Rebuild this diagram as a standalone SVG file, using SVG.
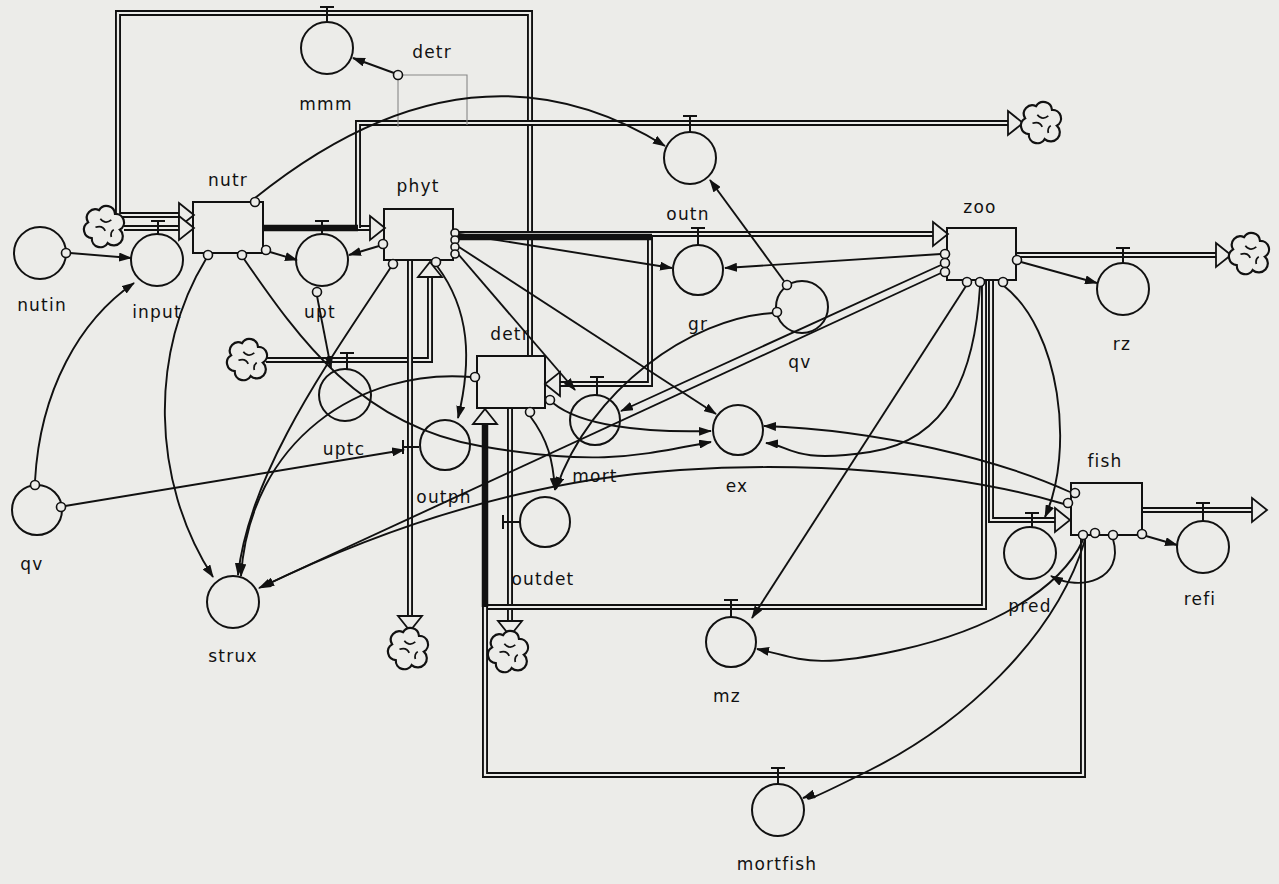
<svg xmlns="http://www.w3.org/2000/svg" xmlns:xlink="http://www.w3.org/1999/xlink" width="1279" height="884" viewBox="0 0 1279 884">
<style>
.bg{fill:#ecece9}
.pipe{fill:none;stroke:#111;stroke-width:6;stroke-linejoin:miter}
.pipein{fill:none;stroke:#ecece9;stroke-width:2.2;stroke-linejoin:miter}
.heavy{fill:none;stroke:#111;stroke-width:6.5}
.box{fill:none;stroke:#111;stroke-width:2}
.conv{fill:none;stroke:#111;stroke-width:2}
.dot{fill:#ecece9;stroke:#111;stroke-width:1.6}
.con{fill:none;stroke:#111;stroke-width:1.9;marker-end:url(#ah)}
.thin{fill:none;stroke:#888;stroke-width:1.1}
.valve{fill:none;stroke:#111;stroke-width:2}
.farrow{fill:#ecece9;stroke:#111;stroke-width:1.8;stroke-linejoin:miter}
.cloud{fill:#ecece9;stroke:#111;stroke-width:1.8}
text{font-family:"DejaVu Sans","Liberation Sans",sans-serif;font-size:17px;letter-spacing:1.2px;fill:#111;text-anchor:middle}
</style>
<defs>
<marker id="ah" viewBox="0 0 13 9" refX="12" refY="4.5" markerWidth="13" markerHeight="9" markerUnits="userSpaceOnUse" orient="auto"><path d="M0,0 L13,4.5 L0,9 z" fill="#111"/></marker>
<path id="fa" class="farrow" d="M0,-12 L15,0 L0,12 Z"/>
<g id="cl">
<g transform="scale(1.22)">
<path class="cloud" d="M-4,-13 A7,7 0 0 1 9,-10 A7,7 0 0 1 13,3 A7,7 0 0 1 3,14 A7,7 0 0 1 -10,10 A7,7 0 0 1 -13,-3 A7,7 0 0 1 -4,-13 Z"/>
<path fill="none" stroke="#111" stroke-width="1.4" d="M-3,-6 q4,5 9,1 M1,4 q-2,-5 -8,-3 M6,9 q-1,-4 2,-6"/>
</g>
</g>
</defs>
<rect class="bg" x="0" y="0" width="1279" height="884"/>

<g id="flows">
<path class="pipe" d="M530,356 V13 H118 V215 H181"/><path class="pipein" d="M530,356 V13 H118 V215 H181"/>
<path class="pipe" d="M124,228 H181"/><path class="pipein" d="M124,228 H181"/>
<path class="pipe" d="M263,228 H371"/><path class="pipein" d="M263,228 H371"/>
<path class="pipe" d="M358,228 V123 H1009"/><path class="pipein" d="M358,228 V123 H1009"/>
<path class="pipe" d="M453,234 H934"/><path class="pipein" d="M453,234 H934"/>
<path class="pipe" d="M650,237 V384 H559"/><path class="pipein" d="M650,237 V384 H559"/>
<path class="pipe" d="M266,360 H430 V277"/><path class="pipein" d="M266,360 H430 V277"/>
<path class="pipe" d="M410,260 V617"/><path class="pipein" d="M410,260 V617"/>
<path class="pipe" d="M510,408 V622"/><path class="pipein" d="M510,408 V622"/>
<path class="pipe" d="M984,280 V607 H485 V423"/><path class="pipein" d="M984,280 V607 H485 V423"/>
<path class="pipe" d="M991,280 V520 H1056"/><path class="pipein" d="M991,280 V520 H1056"/>
<path class="pipe" d="M1083,535 V775 H485 V607"/><path class="pipein" d="M1083,535 V775 H485 V607"/>
<path class="pipe" d="M1016,255 H1217"/><path class="pipein" d="M1016,255 H1217"/>
<path class="pipe" d="M1142,510 H1253"/><path class="pipein" d="M1142,510 H1253"/>
<path class="heavy" d="M263,228 H358"/>
<path class="heavy" d="M453,237 H652"/>
<path class="heavy" stroke-width="7" d="M485,423 V607"/>
<use href="#fa" transform="translate(179,215)"/>
<use href="#fa" transform="translate(179,228)"/>
<use href="#fa" transform="translate(370,228)"/>
<use href="#fa" transform="translate(1008,123)"/>
<use href="#fa" transform="translate(933,234)"/>
<use href="#fa" transform="translate(560,384) rotate(180)"/>
<use href="#fa" transform="translate(430,277) rotate(-90)"/>
<use href="#fa" transform="translate(410,616) rotate(90)"/>
<use href="#fa" transform="translate(510,621) rotate(90)"/>
<use href="#fa" transform="translate(485,424) rotate(-90)"/>
<use href="#fa" transform="translate(1055,520)"/>
<use href="#fa" transform="translate(1216,255)"/>
<use href="#fa" transform="translate(1252,510)"/>
<use href="#cl" x="104" y="226"/>
<use href="#cl" x="1041" y="122"/>
<use href="#cl" x="1249" y="253"/>
<use href="#cl" x="247" y="359"/>
<use href="#cl" x="408" y="648"/>
<use href="#cl" x="508" y="651"/>
<path class="valve" d="M151,221 H165 M158,221 V234 M315,221 H329 M322,221 V234 M683,116 H697 M690,116 V132 M320,7 H334 M327,7 V22 M691,228 H705 M698,228 V245 M590,377 H604 M597,377 V395 M340,353 H354 M347,353 V369 M403,440 V454 M403,447 H419 M503,515 V529 M503,522 H520 M724,600 H738 M731,600 V617 M771,768 H785 M778,768 V784 M1025,513 H1039 M1032,513 V527 M1116,248 H1130 M1123,248 V263 M1196,503 H1210 M1203,503 V521"/>
</g>

<g id="connectors">
<path class="thin" d="M398,79 V127 M402,75 H467 V125"/>
<path class="con" d="M70,253 L131,258"/>
<path class="con" d="M35,481 C40,390 80,320 134,283"/>
<path class="con" d="M65,506 L404,450"/>
<path class="con" d="M255,198 Q470,25 665,146"/>
<path class="con" d="M784,281 L710,180"/>
<path class="con" d="M270,252 L297,260"/>
<path class="con" d="M379,246 L349,255"/>
<path class="con" d="M206,259 C150,350 150,480 213,577"/>
<path class="con" d="M244,259 C300,340 360,425 480,446 S640,455 711,442"/>
<path class="con" d="M553,403 C580,425 640,433 711,431"/>
<path class="con" d="M317,296 L331,368"/>
<path class="con" d="M391,267 C330,360 250,470 238,575"/>
<path class="con" d="M471,377 C360,368 250,440 241,576"/>
<path class="con" d="M437,266 C470,310 472,360 458,418"/>
<path class="con" d="M459,234 L672,268"/>
<path class="con" d="M459,247 L716,414"/>
<path class="con" d="M458,254 L575,390"/>
<path class="con" d="M941,254 L725,268"/>
<path class="con" d="M941,265 L621,411"/>
<path class="con" d="M941,273 L259,588"/>
<path class="con" d="M966,286 L752,618"/>
<path class="con" d="M980,286 C975,370 950,440 870,452 S790,445 766,443"/>
<path class="con" d="M1004,286 C1060,330 1075,450 1045,517"/>
<path class="con" d="M1021,262 L1097,283"/>
<path class="con" d="M1146,536 L1177,545"/>
<path class="con" d="M1113,539 C1125,580 1080,592 1051,576"/>
<path class="con" d="M1083,540 C1060,590 990,630 900,650 S800,658 757,649"/>
<path class="con" d="M1085,540 C1055,640 960,725 870,770 S820,792 803,798"/>
<path class="con" d="M1070,492 C1000,460 880,430 764,426"/>
<path class="con" d="M1064,504 C950,470 800,462 680,470 S420,510 262,587"/>
<path class="con" d="M773,313 C690,318 590,390 556,489"/>
<path class="con" d="M530,416 C548,440 553,460 555,490"/>
<path class="con" d="M394,73 L353,58"/>
</g>

<g id="nutr"><rect class="box" x="193" y="202" width="70" height="51"/><text x="228" y="186">nutr</text></g>
<g id="phyt"><rect class="box" x="384" y="209" width="69" height="51"/><text x="418" y="192">phyt</text></g>
<g id="detr"><rect class="box" x="477" y="356" width="68" height="52"/><text x="510" y="340">detr</text></g>
<g id="zoo"><rect class="box" x="947" y="228" width="69" height="52"/><text x="980" y="213">zoo</text></g>
<g id="fish"><rect class="box" x="1071" y="483" width="71" height="52"/><text x="1105" y="467">fish</text></g>

<g id="nutin"><circle class="conv" cx="40" cy="253" r="26"/><text x="42" y="311">nutin</text></g>
<g id="input"><circle class="conv" cx="157" cy="260" r="26"/><text x="157" y="318">input</text></g>
<g id="upt"><circle class="conv" cx="322" cy="260" r="26"/><text x="320" y="318">upt</text></g>
<g id="mmm"><circle class="conv" cx="327" cy="48" r="26"/><text x="326" y="110">mmm</text></g>
<g id="detr-alias"><text x="432" y="58">detr</text></g>
<g id="outn"><circle class="conv" cx="690" cy="158" r="26"/><text x="688" y="220">outn</text></g>
<g id="gr"><circle class="conv" cx="698" cy="270" r="25"/><text x="698" y="330">gr</text></g>
<g id="qv2"><circle class="conv" cx="802" cy="307" r="26"/><text x="800" y="368">qv</text></g>
<g id="ex"><circle class="conv" cx="738" cy="430" r="25"/><text x="737" y="492">ex</text></g>
<g id="mort"><circle class="conv" cx="595" cy="420" r="25"/><text x="595" y="482">mort</text></g>
<g id="uptc"><circle class="conv" cx="345" cy="395" r="26"/><text x="344" y="455">uptc</text></g>
<g id="outph"><circle class="conv" cx="445" cy="445" r="25"/><text x="444" y="503">outph</text></g>
<g id="qv1"><circle class="conv" cx="37" cy="510" r="25"/><text x="32" y="570">qv</text></g>
<g id="strux"><circle class="conv" cx="233" cy="602" r="26"/><text x="233" y="662">strux</text></g>
<g id="outdet"><circle class="conv" cx="545" cy="522" r="25"/><text x="543" y="585">outdet</text></g>
<g id="mz"><circle class="conv" cx="731" cy="642" r="25"/><text x="727" y="702">mz</text></g>
<g id="mortfish"><circle class="conv" cx="778" cy="810" r="26"/><text x="777" y="870">mortfish</text></g>
<g id="pred"><circle class="conv" cx="1030" cy="553" r="26"/><text x="1030" y="612">pred</text></g>
<g id="rz"><circle class="conv" cx="1123" cy="289" r="26"/><text x="1122" y="350">rz</text></g>
<g id="refi"><circle class="conv" cx="1203" cy="547" r="26"/><text x="1200" y="605">refi</text></g>

<g id="ports">
<circle class="dot" cx="66" cy="253" r="4.5"/>
<circle class="dot" cx="35" cy="485" r="4.5"/>
<circle class="dot" cx="61" cy="507" r="4.5"/>
<circle class="dot" cx="255" cy="202" r="4.5"/>
<circle class="dot" cx="208" cy="255" r="4.5"/>
<circle class="dot" cx="242" cy="255" r="4.5"/>
<circle class="dot" cx="266" cy="250" r="4.5"/>
<circle class="dot" cx="383" cy="244" r="4.5"/>
<circle class="dot" cx="393" cy="264" r="4.5"/>
<circle class="dot" cx="436" cy="262" r="4.5"/>
<circle class="dot" cx="455" cy="233" r="4"/>
<circle class="dot" cx="455" cy="240" r="4"/>
<circle class="dot" cx="455" cy="247" r="4"/>
<circle class="dot" cx="455" cy="254" r="4"/>
<circle class="dot" cx="317" cy="292" r="4.5"/>
<circle class="dot" cx="398" cy="75" r="4.5"/>
<circle class="dot" cx="475" cy="377" r="4.5"/>
<circle class="dot" cx="530" cy="412" r="4.5"/>
<circle class="dot" cx="550" cy="400" r="4.5"/>
<circle class="dot" cx="787" cy="285" r="4.5"/>
<circle class="dot" cx="777" cy="312" r="4.5"/>
<circle class="dot" cx="945" cy="254" r="4.5"/>
<circle class="dot" cx="945" cy="263" r="4.5"/>
<circle class="dot" cx="945" cy="272" r="4.5"/>
<circle class="dot" cx="967" cy="282" r="4.5"/>
<circle class="dot" cx="980" cy="282" r="4.5"/>
<circle class="dot" cx="1003" cy="282" r="4.5"/>
<circle class="dot" cx="1017" cy="260" r="4.5"/>
<circle class="dot" cx="1075" cy="493" r="4.5"/>
<circle class="dot" cx="1068" cy="503" r="4.5"/>
<circle class="dot" cx="1083" cy="535" r="4.5"/>
<circle class="dot" cx="1095" cy="533" r="4.5"/>
<circle class="dot" cx="1113" cy="535" r="4.5"/>
<circle class="dot" cx="1142" cy="534" r="4.5"/>
</g>
</svg>
